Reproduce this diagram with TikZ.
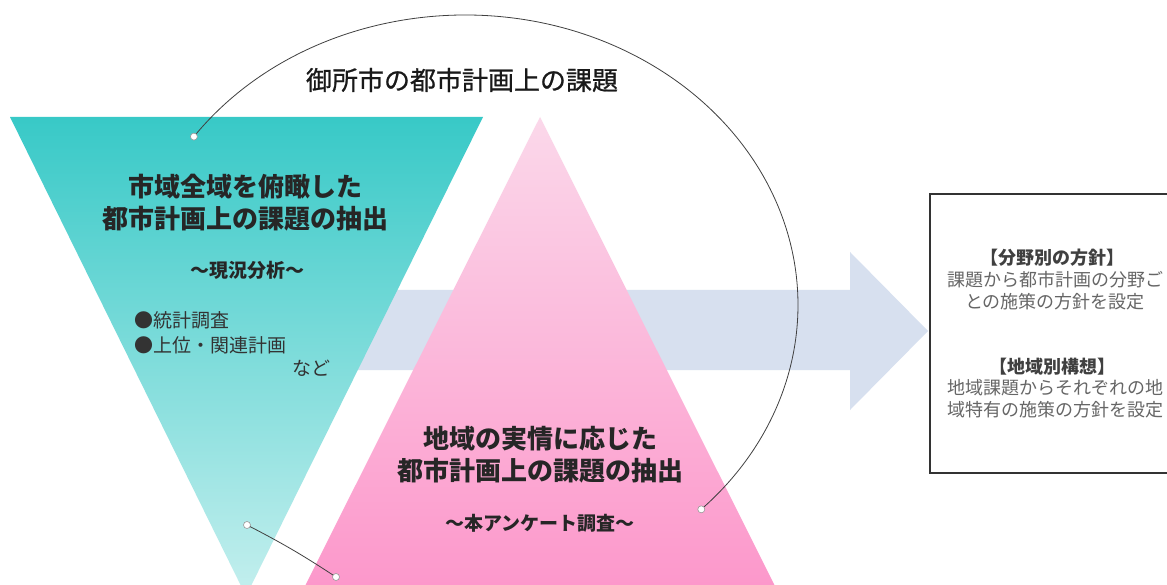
\documentclass[tikz,border=0pt]{standalone}
\usepackage{fontspec}
\setmainfont{Noto Sans CJK JP}
\newfontfamily\medfont[FakeBold=0.8]{Noto Sans CJK JP}
\definecolor{tealtop}{RGB}{56,201,199}
\definecolor{tealbot}{RGB}{196,239,238}
\definecolor{pinktop}{RGB}{251,216,234}
\definecolor{pinkbot}{RGB}{252,150,202}
\definecolor{arrowblue}{RGB}{215,224,239}
\tikzset{
  heading/.style={font=\fontsize{26}{32}\selectfont\bfseries, align=center, text=black!85, inner sep=0pt},
  subhead/.style={font=\fontsize{19}{23}\selectfont\bfseries, text=black!85, inner sep=0pt},
  itemtext/.style={font=\fontsize{19}{25}\selectfont, text=black!80, inner sep=0pt},
  titletext/.style={font=\medfont\fontsize{26}{30}\selectfont, text=black!90, inner sep=0pt},
  conn/.style={draw=black!75, line width=0.8pt},
  dotmark/.style={circle, fill=white, draw=black!40, line width=0.6pt, minimum size=7pt, inner sep=0pt},
  boxhead/.style={font=\fontsize{18}{22}\selectfont\bfseries, text=black!75, inner sep=0pt},
  boxtext/.style={font=\fontsize{18}{22}\selectfont, text=black!60, inner sep=0pt, align=center},
  framebox/.style={draw=black!80, line width=1.2pt}
}
\begin{document}
\begin{tikzpicture}[x=1pt,y=-1pt]
\useasboundingbox (0,0) rectangle (1167,585);
\clip (0,0) rectangle (1167,585);
\fill[white] (0,0) rectangle (1167,585);

% big arrow behind triangles
\fill[arrowblue] (300,290) -- (850,290) -- (850,252) -- (928,331) -- (850,410) -- (850,370) -- (300,370) -- cycle;

% triangles
\shade[top color=tealtop, bottom color=tealbot] (10,117) -- (483,117) -- (246,596) -- cycle;
\shade[top color=pinktop, bottom color=pinkbot] (540,117) -- (782,600) -- (298,600) -- cycle;

% title
\node[titletext] (title) at (462,80) {御所市の都市計画上の課題};

% teal texts
\node[heading] (tealhead) at (245,203) {市域全域を俯瞰した\\都市計画上の課題の抽出};
\node[subhead] (tealsub) at (247,270) {～現況分析～};
\node[itemtext, anchor=west] (item1) at (134,320) {●統計調査};
\node[itemtext, anchor=west] (item2) at (134,345) {●上位・関連計画};
\node[itemtext] (item3) at (311,368) {など};

% pink texts
\node[heading] (pinkhead) at (540,455) {地域の実情に応じた\\都市計画上の課題の抽出};
\node[subhead] (pinksub) at (540,523) {～本アンケート調査～};

% right box
\draw[framebox] (930,194) rectangle (1180,473);
\node[boxhead] (bh1) at (1052,258) {【分野別の方針】};
\node[boxtext] (bt1) at (1055,291) {課題から都市計画の分野ご\\との施策の方針を設定};
\node[boxhead] (bh2) at (1052,367) {【地域別構想】};
\node[boxtext] (bt2) at (1055,399) {地域課題からそれぞれの地\\域特有の施策の方針を設定};

% connectors
\coordinate (ec) at (465,305);
\path (ec) ++(-144.5:333 and 290) coordinate (d1);
\path (ec) ++(44.8:333 and 290) coordinate (d2);
\draw[conn] (d1) arc[start angle=-144.5, end angle=44.8, x radius=333, y radius=290];
\node[dotmark] (dot1) at (d1) {};
\node[dotmark] (dot2) at (d2) {};

\coordinate (e1) at (247,525);
\coordinate (e2) at (336,577);
\draw[conn] (e1) to[bend left=3] (e2);
\node[dotmark] (dot3) at (e1) {};
\node[dotmark] (dot4) at (e2) {};
\end{tikzpicture}
\end{document}
